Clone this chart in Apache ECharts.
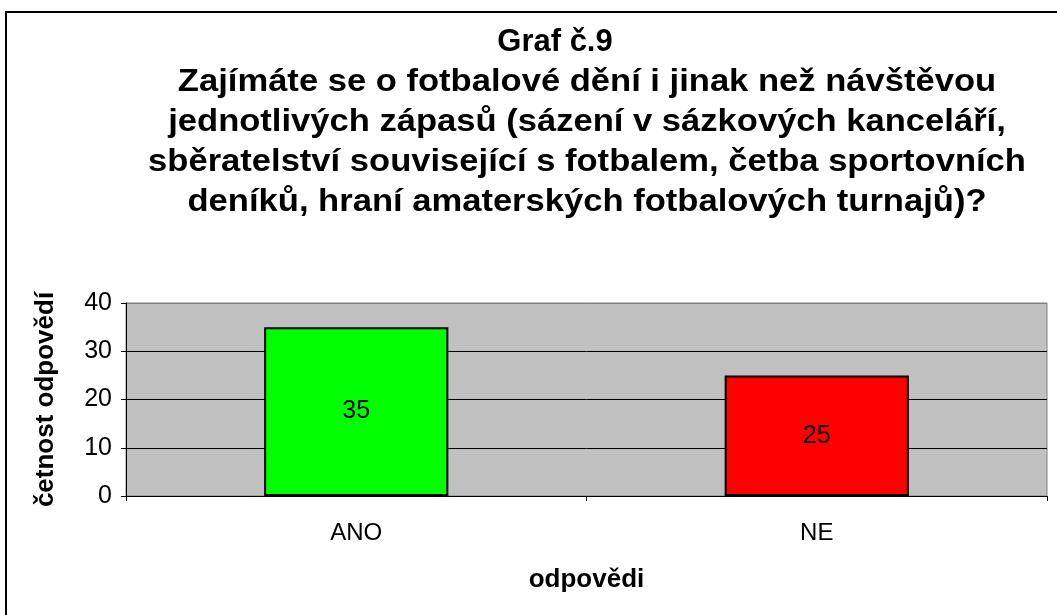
<!DOCTYPE html>
<html>
<head>
<meta charset="utf-8">
<script src="https://cdn.jsdelivr.net/npm/echarts@6/dist/echarts.min.js"></script>
<style>html,body{margin:0;padding:0;background:#fff;}#c{width:1057px;height:615px;}</style>
</head>
<body>
<div id="c"></div>
<script>
const categories = ['ANO', 'NE'];
const values = [35, 25];
const barColors = ['#00FF00', '#FF0000'];
const yTicks = [0, 10, 20, 30, 40];
const titleLine1 = 'Graf č.9';
const titleRest = 'Zajímáte se o fotbalové dění i jinak než návštěvou\njednotlivých zápasů (sázení v sázkových kanceláří,\nsběratelství související s fotbalem, četba sportovních\ndeníků, hraní amaterských fotbalových turnajů)?';

const chart = echarts.init(document.getElementById('c'));
const font = 'Arial, "Liberation Sans", sans-serif';
chart.setOption({
  animation: false,
  backgroundColor: '#fff',
  textStyle: { fontFamily: font },
  graphic: [
    { type: 'rect', shape: { x: 6, y: 12, width: 1060, height: 620 },
      style: { fill: 'none', stroke: '#000', lineWidth: 2 }, z: 100 },
    { type: 'text', x: 555, y: 42, scaleX: 1.0,
      style: { text: titleLine1, fontFamily: font, fontSize: 31, fontWeight: 'bold', fill: '#000',
               textAlign: 'center', textVerticalAlign: 'middle' } },
    { type: 'text', x: 587, y: 62, scaleX: 1.115,
      style: { text: titleRest, fontFamily: font, fontSize: 31, fontWeight: 'bold', fill: '#000',
               textAlign: 'center', textVerticalAlign: 'top', lineHeight: 40 } }
  ],
  grid: { left: 126, right: 10, top: 303, bottom: 119, show: true, backgroundColor: '#C0C0C0', borderColor: '#808080', borderWidth: 1 },
  xAxis: {
    type: 'category', data: categories,
    name: 'odpovědi', nameLocation: 'middle', nameGap: 71,
    nameTextStyle: { fontFamily: font, fontSize: 26, fontWeight: 'bold', color: '#000' },
    axisLine: { lineStyle: { color: '#000', width: 1 } },
    axisTick: { show: true, length: 5, lineStyle: { color: '#000' } },
    axisLabel: { fontFamily: font, fontSize: 24, color: '#000', margin: 25 }
  },
  yAxis: {
    type: 'value', min: yTicks[0], max: yTicks[yTicks.length - 1], interval: 10,
    name: 'četnost odpovědí', nameLocation: 'middle', nameGap: 67, nameRotate: 90,
    nameTextStyle: { fontFamily: font, fontSize: 26, fontWeight: 'bold', color: '#000' },
    axisLine: { show: true, lineStyle: { color: '#000', width: 1 } },
    axisTick: { show: true, length: 5, lineStyle: { color: '#000' } },
    axisLabel: { fontFamily: font, fontSize: 25, color: '#000', margin: 14 },
    splitLine: { show: true, lineStyle: { color: ['#000', '#000', '#000', '#000', '#808080'], width: 1 } }
  },
  series: [{
    type: 'bar',
    data: values.map((v, i) => ({ value: v, itemStyle: { color: barColors[i] } })),
    barWidth: '40%',
    itemStyle: { borderColor: '#000', borderWidth: 2 },
    label: { show: true, position: 'inside', fontFamily: font, fontSize: 25, color: '#000' }
  }]
});
</script>
</body>
</html>
